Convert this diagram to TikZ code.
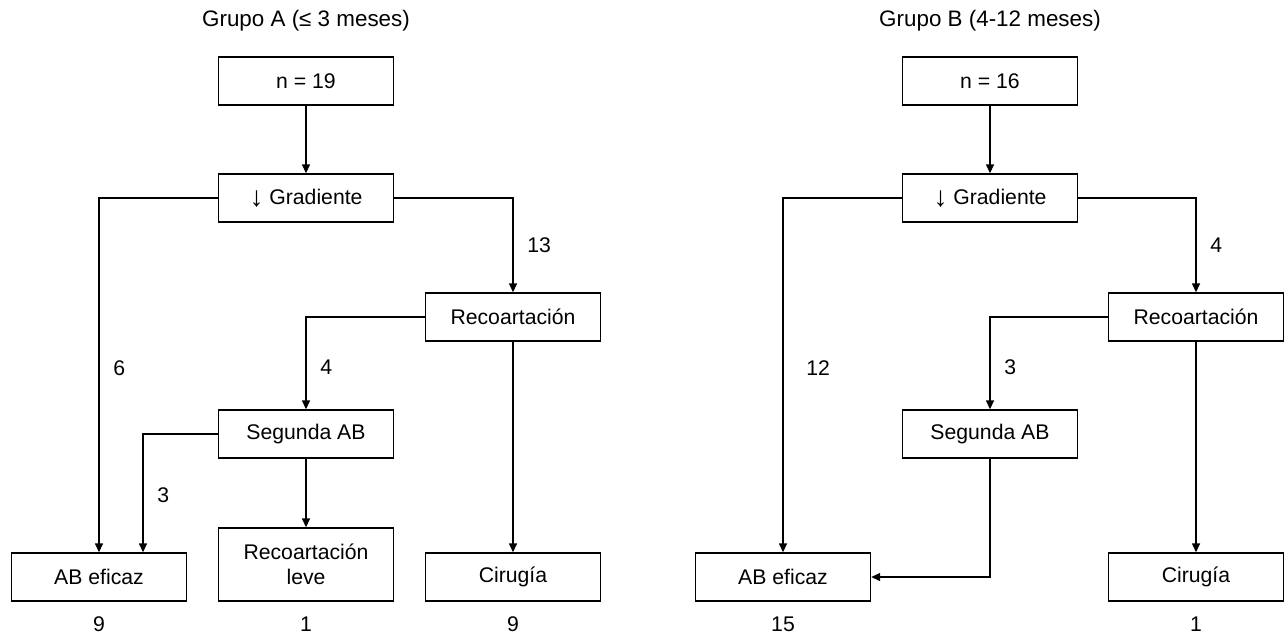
\documentclass[tikz,border=0pt]{standalone}
\usepackage{fontspec}
\setmainfont{Liberation Sans}
\usepackage{tikz}
\usetikzlibrary{positioning}
\usetikzlibrary{arrows.meta,calc}
\tikzset{edge/.style = {-{Triangle[length=4.5pt,width=4pt]}, line width=0.7pt}}
\newcommand{\dnarrow}{\raisebox{-1.2pt}{\fontsize{14}{14}\selectfont ↓}}

\begin{document}
\begin{tikzpicture}[x=0.5pt,y=-0.5pt,font=\fontsize{10.6}{12.6}\selectfont,
    main node/.style={rectangle,draw,line width=0.7pt,minimum width=87.5pt,minimum height=24pt,align=center},
    title/.style={font=\fontsize{11.2}{13}\selectfont},
    num/.style={right=3.5pt}]
                \useasboundingbox (0,0) rectangle (1284,638);

                % Grupo A
                \node[main node] (nA) at (306,81) {n = 19};
                \node[main node] (gA) at (306,198) {\dnarrow\ Gradiente};
                \node[main node] (rA) at (513,317) {Recoartación};
                \node[main node] (sA) at (306,434) {Segunda AB};
                \node[main node] (abA) at (99,577) {AB eficaz};
                \node[main node, minimum height=36.5pt] (lA) at (306,564.5) {Recoartación\\leve};
                \node[main node] (cA) at (513,577) {Cirugía};
                \node[title,above=9pt of nA] (tA) {Grupo A (≤ 3 meses)};
                \node[below=4pt of abA] (abAn) {9};
                \node[below=4pt of lA] (lAn) {1};
                \node[below=4pt of cA] (cAn) {9};

                \draw[edge] (nA) -- (gA);
                \draw[edge] (gA.west) -| (abA.north) node[pos=0.74,num] {6};
                \draw[edge] (gA.east) -| (rA.north) node[pos=0.75,num] {13};
                \draw[edge] (rA.west) -| (sA.north) node[pos=0.77,num] {4};
                \draw[edge] (rA) -- (cA);
                \draw[edge] (sA.west) -| ($(abA.north)+(44,0)$) node[pos=0.76,num] {3};
                \draw[edge] (sA) -- (lA);

                % Grupo B
                \node[main node] (nB) at (990,81) {n = 16};
                \node[main node] (gB) at (990,198) {\dnarrow\ Gradiente};
                \node[main node] (rB) at (1196,317) {Recoartación};
                \node[main node] (sB) at (990,434) {Segunda AB};
                \node[main node] (abB) at (783,577) {AB eficaz};
                \node[main node] (cB) at (1196,577) {Cirugía};
                \node[title,above=9pt of nB] (tB) {Grupo B (4-12 meses)};
                \node[below=4pt of abB] (abBn) {15};
                \node[below=4pt of cB] (cBn) {1};

                \draw[edge] (nB) -- (gB);
                \draw[edge] (gB.west) -| (abB.north) node[pos=0.74,right=8pt] {12};
                \draw[edge] (gB.east) -| (rB.north) node[pos=0.75,num] {4};
                \draw[edge] (rB.west) -| (sB.north) node[pos=0.77,num] {3};
                \draw[edge] (rB) -- (cB);
                \draw[edge] (sB.south) |- (abB.east);
            \end{tikzpicture}
\end{document}
